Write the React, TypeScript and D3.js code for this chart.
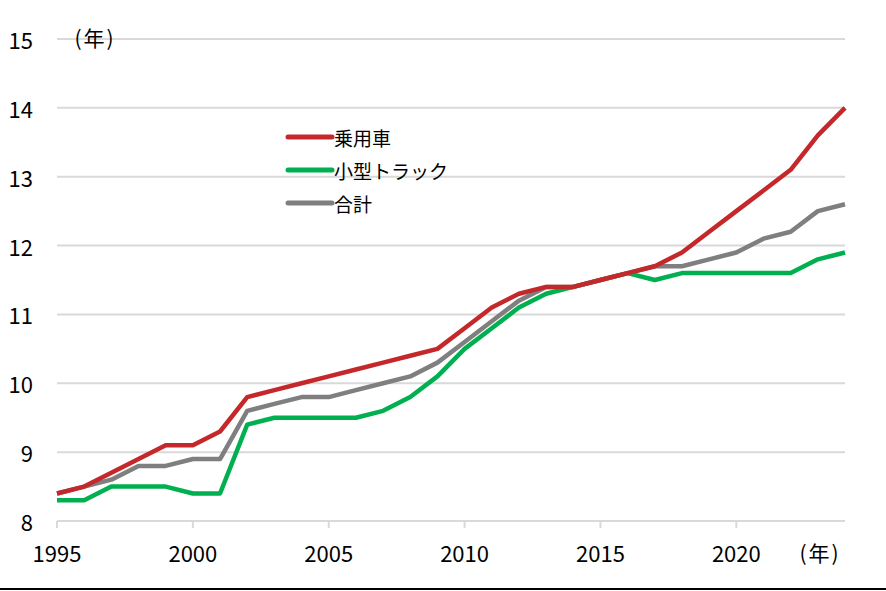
import React from "react";
import * as d3 from "d3";

const years = d3.range(1995, 2025);
const passenger = [8.4, 8.5, 8.7, 8.9, 9.1, 9.1, 9.3, 9.8, 9.9, 10.0, 10.1, 10.2, 10.3, 10.4, 10.5, 10.8, 11.1, 11.3, 11.4, 11.4, 11.5, 11.6, 11.7, 11.9, 12.2, 12.5, 12.8, 13.1, 13.6, 14.0];
const truck = [8.3, 8.3, 8.5, 8.5, 8.5, 8.4, 8.4, 9.4, 9.5, 9.5, 9.5, 9.5, 9.6, 9.8, 10.1, 10.5, 10.8, 11.1, 11.3, 11.4, 11.5, 11.6, 11.5, 11.6, 11.6, 11.6, 11.6, 11.6, 11.8, 11.9];
const total = [8.4, 8.5, 8.6, 8.8, 8.8, 8.9, 8.9, 9.6, 9.7, 9.8, 9.8, 9.9, 10.0, 10.1, 10.3, 10.6, 10.9, 11.2, 11.4, 11.4, 11.5, 11.6, 11.7, 11.7, 11.8, 11.9, 12.1, 12.2, 12.5, 12.6];
const yTicks = [8, 9, 10, 11, 12, 13, 14, 15];
const xTicks = [1995, 2000, 2005, 2010, 2015, 2020];
const seriesNames = ["乗用車", "小型トラック", "合計"];
const seriesColors = ["#C5282B", "#00B050", "#7F7F7F"];
const unitLabel = "(年)";

const W = 886;
const H = 591;
const FONT = "'Noto Sans CJK JP', 'Noto Sans', sans-serif";

export default function App() {
  const x = d3.scaleLinear().domain([1995, 2024]).range([57, 845]);
  const y = d3.scaleLinear().domain([8, 15]).range([521, 39]);
  const line = d3
    .line<number>()
    .x((_, i) => x(years[i]))
    .y((d) => y(d));
  const series = [passenger, truck, total];
  const drawOrder = [1, 2, 0];
  return (
    <svg
      width={W}
      height={H}
      style={{ position: "fixed", left: 0, top: 0, background: "#fff" }}
      fontFamily={FONT}
    >
      <rect x={0} y={0} width={W} height={H} fill="#fff" />
      {yTicks.slice(1).map((t) => (
        <line key={t} x1={x(1995)} x2={x(2024)} y1={y(t)} y2={y(t)} stroke="#D9D9D9" strokeWidth={2} />
      ))}
      <line x1={x(1995)} x2={x(2024)} y1={y(8)} y2={y(8)} stroke="#D9D9D9" strokeWidth={2} />
      {xTicks.map((t) => (
        <line key={t} x1={x(t)} x2={x(t)} y1={y(8)} y2={y(8) + 7} stroke="#D9D9D9" strokeWidth={2} />
      ))}
      {yTicks.map((t) => (
        <text key={t} x={33} y={y(t)} textAnchor="end" dominantBaseline="central" fontSize={22} fill="#000">
          {t}
        </text>
      ))}
      {xTicks.map((t) => (
        <text key={t} x={x(t)} y={552} textAnchor="middle" dominantBaseline="central" fontSize={22} fill="#000">
          {t}
        </text>
      ))}
      <text x={820} y={552} textAnchor="middle" dominantBaseline="central" fontSize={21} letterSpacing={2} fill="#000">
        {unitLabel}
      </text>
      <text x={95} y={37} textAnchor="middle" dominantBaseline="central" fontSize={21} letterSpacing={2} fill="#000">
        {unitLabel}
      </text>
      {drawOrder.map((i) => (
        <path key={i} d={line(series[i]) || ""} fill="none" stroke={seriesColors[i]} strokeWidth={4.5} strokeLinejoin="round" />
      ))}
      {seriesNames.map((n, i) => {
        const ly = 137 + i * 33;
        return (
          <g key={n}>
            <line x1={288} x2={332} y1={ly} y2={ly} stroke={seriesColors[i]} strokeWidth={5} strokeLinecap="round" />
            <text x={334} y={ly} dominantBaseline="central" fontSize={19} fill="#000">
              {n}
            </text>
          </g>
        );
      })}
      <rect x={0} y={588} width={W} height={2} fill="#000" />
    </svg>
  );
}
